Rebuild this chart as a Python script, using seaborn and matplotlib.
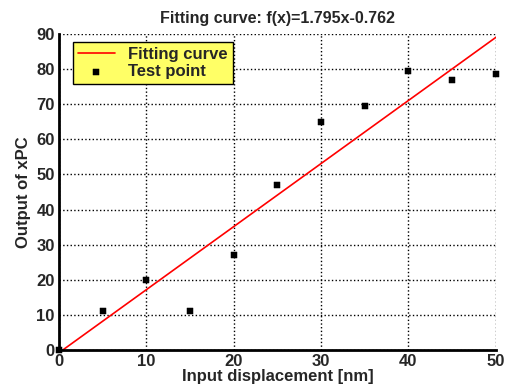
import numpy as np
import matplotlib
matplotlib.use("Agg")
import matplotlib.pyplot as plt
import seaborn as sns

# measured data
x_points = [0, 5, 10, 15, 20, 25, 30, 35, 40, 45, 50]
y_points = [0, 11, 20, 11, 27, 47, 65, 69.5, 79.5, 77, 78.5]
slope = 1.795
intercept = -0.762
x_ticks = [0, 10, 20, 30, 40, 50]
y_ticks = [0, 10, 20, 30, 40, 50, 60, 70, 80, 90]

sns.set_style("white")
plt.rcParams['font.family'] = ['Liberation Sans', 'DejaVu Sans']
plt.rcParams['font.weight'] = 'bold'

fig = plt.figure(figsize=(5.17, 3.89), dpi=100)
ax = fig.add_axes([0.114, 0.100, 0.845, 0.813])

fit_x = np.array([0, 50])
fit_y = slope * fit_x + intercept
sns.lineplot(x=fit_x, y=fit_y, color='red', linewidth=1.2, ax=ax, label='Fitting curve')
sns.scatterplot(x=x_points, y=y_points, color='black', marker='s', s=20,
                edgecolor='black', ax=ax, label='Test point', zorder=3, clip_on=False)

ax.set_xlim(0, 50)
ax.set_ylim(0, 90)
ax.set_xticks(x_ticks)
ax.set_yticks(y_ticks)
ax.tick_params(labelsize=12, direction='in', length=3, width=1.5, pad=3)
ax.grid(True, linestyle=':', color='black', linewidth=1)
ax.set_axisbelow(True)
for s in ['top', 'right']:
    ax.spines[s].set_visible(False)
for s in ['left', 'bottom']:
    ax.spines[s].set_linewidth(2)
    ax.spines[s].set_color('black')

ax.set_title('Fitting curve: f(x)=1.795x-0.762', fontsize=11.5, fontweight='bold', pad=8)
ax.set_xlabel('Input displacement [nm]', fontsize=12, fontweight='bold', labelpad=0)
ax.set_ylabel('Output of xPC', fontsize=12, fontweight='bold', labelpad=4)

leg = ax.legend(loc='upper left', fontsize=12, frameon=True, fancybox=False,
                framealpha=1, borderaxespad=0, handlelength=2.2, borderpad=0.3,
                labelspacing=0.15, bbox_to_anchor=(0.032, 0.975))
leg.get_frame().set_facecolor('#ffff66')
leg.get_frame().set_edgecolor('black')
leg.get_frame().set_linewidth(1)
for t in leg.get_texts():
    t.set_fontweight('bold')

fig.savefig('out.png', dpi=100)
